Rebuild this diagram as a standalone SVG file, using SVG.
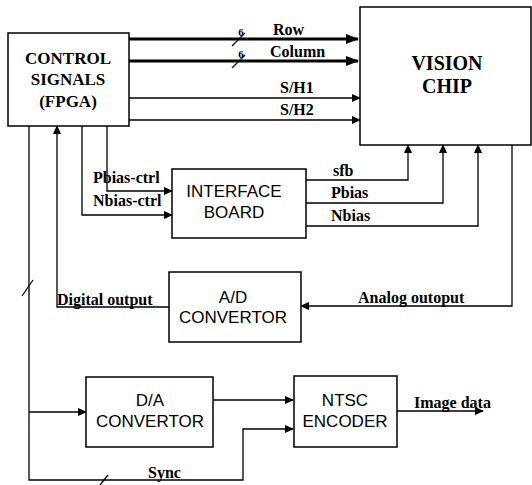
<svg xmlns="http://www.w3.org/2000/svg" width="532" height="485" viewBox="0 0 532 485">
<style>
.box{fill:#fff;stroke:#000;stroke-width:1.5}
.ln{fill:none;stroke:#000;stroke-width:1.3}
.thick{fill:none;stroke:#000;stroke-width:3}
.serifB{font-family:'Liberation Serif','DejaVu Serif',serif;font-weight:700;fill:#000;text-anchor:middle}
.lbl{font-family:'Liberation Serif','DejaVu Serif',serif;font-weight:700;font-size:16px;fill:#000}
.sm{font-family:'Liberation Serif','DejaVu Serif',serif;font-weight:700;font-size:11px;fill:#000;text-anchor:middle}
.sans{font-family:'Liberation Sans',Arial,sans-serif;font-size:17px;fill:#000;text-anchor:middle}
</style>
<defs>
<marker id="ah" markerWidth="9" markerHeight="8" refX="8" refY="4" orient="auto" markerUnits="userSpaceOnUse">
<path d="M0,0 L9,4 L0,8 Z" fill="#000"/>
</marker>
<marker id="ahb" markerWidth="13" markerHeight="10" refX="12" refY="5" orient="auto" markerUnits="userSpaceOnUse">
<path d="M0,0 L13,5 L0,10 Z" fill="#000"/>
</marker>
</defs>
<rect width="532" height="485" fill="#fff"/>

<g id="connectors">
<line class="thick" x1="129" y1="39" x2="358" y2="39" marker-end="url(#ahb)"/>
<line class="thick" x1="129" y1="61" x2="358" y2="61" marker-end="url(#ahb)"/>
<line class="ln" x1="232" y1="46" x2="245" y2="33"/>
<line class="ln" x1="232" y1="68" x2="245" y2="55"/>
<text class="sm" x="241" y="36">6</text>
<text class="sm" x="241" y="58">6</text>
<text class="lbl" x="273" y="35">Row</text>
<text class="lbl" x="270" y="57">Column</text>
<line class="ln" x1="129" y1="98" x2="360" y2="98" marker-end="url(#ah)"/>
<line class="ln" x1="129" y1="120" x2="360" y2="120" marker-end="url(#ah)"/>
<text class="lbl" x="280" y="93">S/H1</text>
<text class="lbl" x="280" y="115">S/H2</text>
<polyline class="ln" points="107,126 107,191 172,191" marker-end="url(#ah)"/>
<polyline class="ln" points="82,126 82,215 172,215" marker-end="url(#ah)"/>
<text class="lbl" x="93" y="183">Pbias-ctrl</text>
<text class="lbl" x="93" y="206">Nbias-ctrl</text>
<polyline class="ln" points="306,180 408,180 408,145" marker-end="url(#ah)"/>
<polyline class="ln" points="306,203 443,203 443,145" marker-end="url(#ah)"/>
<polyline class="ln" points="306,226 478,226 478,145" marker-end="url(#ah)"/>
<text class="lbl" x="333" y="176">sfb</text>
<text class="lbl" x="331" y="198">Pbias</text>
<text class="lbl" x="331" y="221">Nbias</text>
<polyline class="ln" points="512,145 512,306 301,306" marker-end="url(#ah)"/>
<text class="lbl" x="358" y="303">Analog outoput</text>
<polyline class="ln" points="169,307 57,307 57,126" marker-end="url(#ah)"/>
<text class="lbl" x="57" y="305">Digital output</text>
<polyline class="ln" points="29,126 29,480 243,480 243,429 293,429" marker-end="url(#ah)"/>
<line class="ln" x1="22" y1="296" x2="33" y2="280"/>
<line class="ln" x1="100" y1="485" x2="108" y2="475"/>
<text class="lbl" x="148" y="478">Sync</text>
<line class="ln" x1="29" y1="412" x2="86" y2="412" marker-end="url(#ah)"/>
<line class="ln" x1="213" y1="400" x2="293" y2="400" marker-end="url(#ah)"/>
<line class="ln" x1="397" y1="411" x2="483" y2="411" marker-end="url(#ah)"/>
<text class="lbl" x="414" y="408">Image data</text>
</g>

<g id="control">
<rect class="box" x="8" y="33" width="121" height="93"/>
<text class="serifB" font-size="17" x="68" y="64">CONTROL</text>
<text class="serifB" font-size="17" x="68" y="85">SIGNALS</text>
<text class="serifB" font-size="17" x="68" y="107">(FPGA)</text>
</g>

<g id="vision">
<rect class="box" x="360" y="7" width="171" height="138"/>
<text class="serifB" font-size="20" x="447" y="70">VISION</text>
<text class="serifB" font-size="20" x="447" y="93">CHIP</text>
</g>

<g id="interface">
<rect class="box" x="172" y="169" width="134" height="69"/>
<text class="sans" x="234" y="197">INTERFACE</text>
<text class="sans" x="234" y="218">BOARD</text>
</g>

<g id="adc">
<rect class="box" x="169" y="272" width="132" height="70"/>
<text class="sans" x="233" y="303">A/D</text>
<text class="sans" x="233" y="323">CONVERTOR</text>
</g>

<g id="dac">
<rect class="box" x="86" y="377" width="127" height="70"/>
<text class="sans" x="150" y="406">D/A</text>
<text class="sans" x="150" y="427">CONVERTOR</text>
</g>

<g id="ntsc">
<rect class="box" x="294" y="376" width="103" height="71"/>
<text class="sans" x="345" y="406">NTSC</text>
<text class="sans" x="345" y="427">ENCODER</text>
</g>
</svg>
